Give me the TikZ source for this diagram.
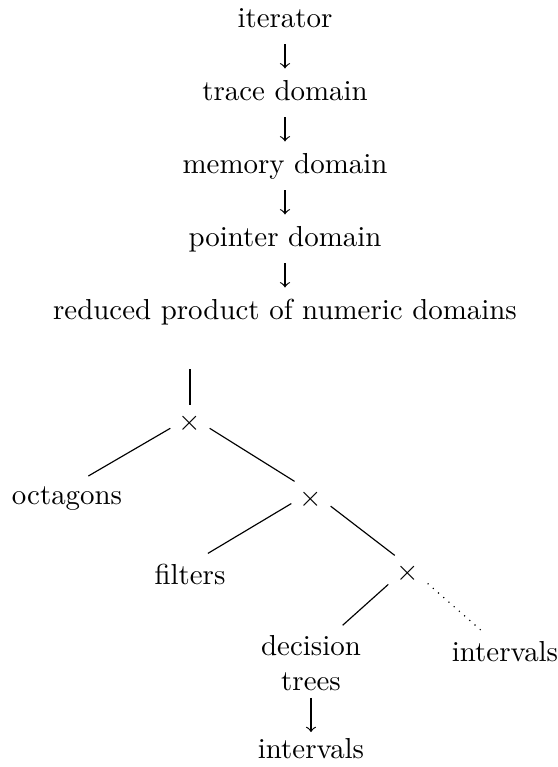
\documentclass[tikz,border=0pt]{standalone}
\usepackage{tikz}
\usepackage{amsmath}

\begin{document}
\begin{tikzpicture}[x=0.346pt,y=-0.346pt]
	\tikzstyle{layer}=[anchor=base,text height=7.4pt,text depth=2.4pt]
	\tikzstyle{prod}=[inner sep=0pt,minimum width=13.2pt,minimum height=11.8pt]
	\tikzstyle{leaf}=[anchor=base]
	\tikzstyle{link}=[-,black]
	\tikzstyle{weak link}=[link,dotted]
	\tikzstyle{down link}=[->,black]

	\useasboundingbox (0,0) rectangle (558,767);

	\node[layer] (l1) at (285,27)		{iterator};
	\node[layer] (l2) at (285,100)		{trace domain};
	\node[layer] (l3) at (285,173)		{memory domain};
	\node[layer] (l4) at (285,246)		{pointer domain};
	\node[layer] (l5) at (285,319)		{reduced product of numeric domains};
	\draw[down link] (l1) -- (l2);
	\draw[down link] (l2) -- (l3);
	\draw[down link] (l3) -- (l4);
	\draw[down link] (l4) -- (l5);

	\coordinate (top) at (190,369);
	\node[prod] (x1) at (190,423)		{$\times$};
	\node[prod] (x2) at (311,499)		{$\times$};
	\node[prod] (x3) at (408,573)		{$\times$};
	\node[leaf] (oct) at (67,504)		{octagons};
	\node[leaf] (filt) at (190,584)	{filters};
	\node[align=center] (dec) at (311,663)	{decision\\trees};
	\node[leaf] (ivr) at (505,661)		{intervals};
	\node[leaf] (ivb) at (311,758)		{intervals};

	% edges leave the products low on the sides
	\draw[link] (top) -- (x1.north);
	\draw[link] (x1.195) -- (oct.46);
	\draw[link] (x1.345) -- (x2.133);
	\draw[link] (x2.193) -- (filt.49);
	\draw[link] (x2.340) -- (x3.127);
	\draw[link] (x3.210) -- (dec.50);
	\draw[weak link] (x3.332) -- (ivr.139);
	\draw[down link,shorten <=-1pt,shorten >=-1.5pt] (dec) -- (ivb);
\end{tikzpicture}
\end{document}
